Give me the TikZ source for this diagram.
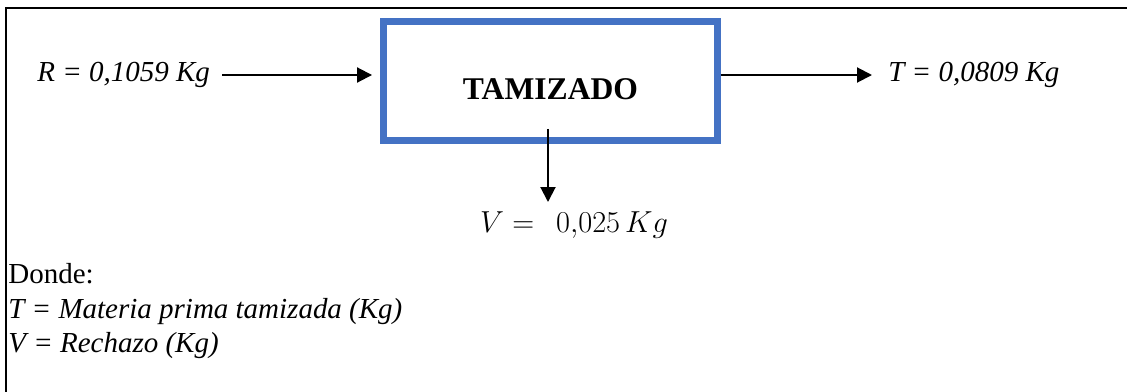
\documentclass[tikz,border=0pt]{standalone}
\usepackage{fontspec}
\setmainfont{Liberation Serif}
\usetikzlibrary{arrows.meta}
\definecolor{tzblue}{RGB}{68,114,196}
\definecolor{tzframe}{RGB}{0,0,0}

\tikzset{
    flow/.style={draw=black, line width=0.04cm, -{Triangle[length=0.3cm,width=0.3cm]}},
    procbox/.style={draw=tzblue, line width=0.14cm, minimum width=6.68cm, minimum height=2.38cm,
                    font=\fontsize{18}{21}\selectfont\bfseries, text height=0.76cm, text depth=0pt},
    flowlbl/.style={inner sep=0pt, font=\fontsize{16.5}{20}\selectfont\itshape},
    notelbl/.style={inner sep=0pt, anchor=base west, font=\fontsize{16.5}{20}\selectfont}
}

\begin{document}
\begin{tikzpicture}[x=0.02cm, y=-0.02cm]
        \useasboundingbox (0,0) rectangle (1127,392);
        \draw[tzframe, line width=0.05cm] (6,392) -- (6,8) -- (1127,8);

        \node[procbox] (tamiz) at (550.5,81) {TAMIZADO};
        \node[flowlbl, anchor=base west] (rin) at (37,81) {R = 0,1059 Kg};
        \node[flowlbl, anchor=base west] (tout) at (888,81) {T = 0,0809 Kg};
        \node[inner sep=0pt, anchor=base, font=\fontsize{17}{20}\selectfont] (vout) at (574,232) {$V =\;\, 0{,}025\,Kg$};
        \coordinate (vtip) at ([yshift=0.6cm]vout.base);

        \draw[flow, shorten >=0.16cm] ([xshift=0.24cm,yshift=0.12cm]rin.base east) -- ([yshift=0.12cm]tamiz.west);
        \draw[flow, shorten >=0.32cm] ([yshift=0.12cm]tamiz.east) -- ([yshift=0.12cm]tout.base west);
        \draw[flow] ([xshift=-0.05cm,yshift=0.3cm]tamiz.south) -- ([xshift=-0.05cm]tamiz.south |- vtip);

        \node[notelbl] (donde) at (8,283) {Donde:};
        \node[notelbl, font=\fontsize{16.5}{20}\selectfont\itshape] (defT) at (8,318) {T = Materia prima tamizada (Kg)};
        \node[notelbl, font=\fontsize{16.5}{20}\selectfont\itshape] (defV) at (8,352) {V = Rechazo (Kg)};
    \end{tikzpicture}
\end{document}
